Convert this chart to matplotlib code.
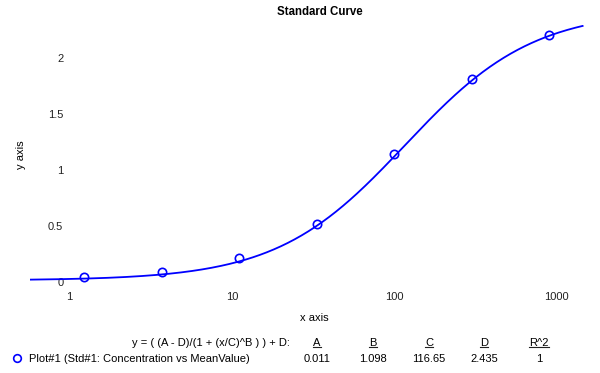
import numpy as np
import matplotlib
matplotlib.use("Agg")
import matplotlib.pyplot as plt

plt.rcParams["font.family"] = ["Liberation Sans", "DejaVu Sans"]

# standards (concentration vs mean value)
conc = [1.2346, 3.7037, 11.111, 33.333, 100.0, 300.0, 900.0]
mean_value = [0.045, 0.09, 0.21, 0.52, 1.14, 1.82, 2.21]

# 4PL fit parameters shown in the table
param_names = ["A", "B", "C", "D", "R^2"]
param_labels = ["0.011", "1.098", "116.65", "2.435", "1"]
A, B, C, D = 0.011, 1.098, 116.65, 2.435
x_range = (0.57, 1450)

x_ticks = [1, 10, 100, 1000]
y_ticks = [0, 0.5, 1, 1.5, 2]

BLUE = "#0000ff"
FS = 8.0

fig = plt.figure(figsize=(6.0, 3.73), dpi=100)
W, H = 600, 373
ax = fig.add_axes([30 / W, 1 - 285 / H, 555 / W, 260 / H])

xf = np.geomspace(*x_range, 400)
yf = D + (A - D) / (1 + (xf / C) ** B)
ax.plot(xf, yf, color=BLUE, lw=1.3)
ax.plot(conc, mean_value, "o", mfc="none", mec=BLUE, mew=1.2, ms=6)

ax.set_xscale("log")
ax.set_xlim(0.57, 1500)
ax.set_ylim(-0.03, 2.3)
ax.set_xticks(x_ticks)
ax.set_xticklabels([str(t) for t in x_ticks])
ax.set_yticks(y_ticks)
ax.set_yticklabels(["0", "0.5", "1", "1.5", "2"])
ax.minorticks_off()
ax.tick_params(length=0, labelsize=FS, colors="#222222")
ax.tick_params(axis="y", pad=-24)
ax.tick_params(axis="x", pad=5)
for s in ax.spines.values():
    s.set_visible(False)

fig.text(320 / W, 1 - 12 / H, "Standard Curve", ha="center", va="center",
         fontsize=8.3, fontweight="bold")
fig.text(314 / W, 1 - 318 / H, "x axis", ha="center", va="center", fontsize=FS)
fig.text(21 / W, 1 - 155 / H, "y axis", ha="center", va="center",
         fontsize=FS, rotation=90)

# fit table
fig.text(290 / W, 1 - 343 / H, "y = ( (A - D)/(1 + (x/C)^B ) ) + D:",
         ha="right", va="center", fontsize=FS)
fig.text(29 / W, 1 - 359 / H, "Plot#1 (Std#1: Concentration vs MeanValue)",
         ha="left", va="center", fontsize=FS)
fig.add_artist(plt.Line2D([17 / W], [1 - 358 / H], marker="o", mfc="none",
                          mec=BLUE, mew=1.2, ms=5.5, ls="none"))
col_x = [317, 373, 429, 484, 539]
headers = []
for cx, name, val in zip(col_x, param_names, param_labels):
    headers.append(fig.text(cx / W, 1 - 343 / H, name, ha="center",
                            va="center", fontsize=FS))
    fig.text(cx / W, 1 - 359 / H, val, ha="center", va="center", fontsize=FS)

# underline the column headers
renderer = fig.canvas.get_renderer()
for t in headers:
    bb = t.get_window_extent(renderer).transformed(fig.transFigure.inverted())
    fig.add_artist(plt.Line2D([bb.x0, bb.x1], [bb.y0 + 1 / H] * 2,
                              color="#222222", lw=0.8))

fig.savefig("out.png", dpi=100)
